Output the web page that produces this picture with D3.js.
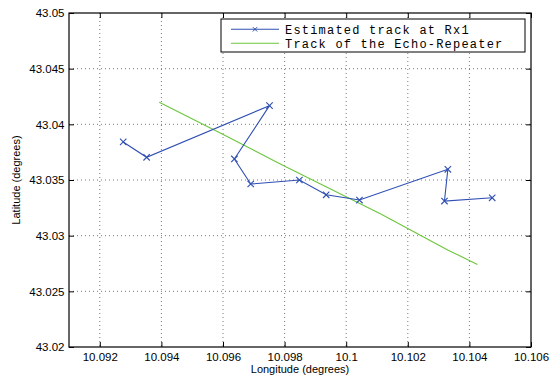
<!DOCTYPE html>
<html><head><meta charset="utf-8">
<script src="https://cdn.jsdelivr.net/npm/d3@7"></script>
<style>body{margin:0;background:#fff}svg{display:block}</style>
</head><body><svg id="c" width="552" height="379"></svg>
<script>
const estLon = [10.09276,10.09352,10.09751,10.09637,10.09690,10.09848,10.09935,10.10043,10.10330,10.10319,10.10474];
const estLat = [43.03842,43.03704,43.04168,43.03689,43.03464,43.03500,43.03367,43.03320,43.03596,43.03311,43.03340];
const repLon = [10.09393,10.09591,10.09786,10.10114,10.10331,10.10426];
const repLat = [43.04199,43.03923,43.03644,43.03193,43.02870,43.02742];
const xTicks = [10.092,10.094,10.096,10.098,10.1,10.102,10.104,10.106];
const yTicks = [43.02,43.025,43.03,43.035,43.04,43.045,43.05];
const legendLabels = ["Estimated track at Rx1","Track of the Echo-Repeater"];

const svg = d3.select("#c");
const L=69, R=531, T=13, B=347;
const x = d3.scaleLinear().domain([10.091,10.106]).range([L,R]);
const y = d3.scaleLinear().domain([43.02,43.05]).range([B,T]);
const blue="#2f4fb3", green="#6cc63c";
const sans="Liberation Sans, Arial, sans-serif";

// grid
const g = svg.append("g");
g.selectAll(".gx").data(xTicks.filter(d=>d<10.106)).enter().append("line")
 .attr("x1",d=>x(d)).attr("x2",d=>x(d)).attr("y1",T).attr("y2",B)
 .attr("stroke","#555").attr("stroke-width",0.8).attr("stroke-dasharray","1,3");
g.selectAll(".gy").data(yTicks.filter(d=>d>43.02&&d<43.05)).enter().append("line")
 .attr("y1",d=>y(d)).attr("y2",d=>y(d)).attr("x1",L).attr("x2",R)
 .attr("stroke","#555").attr("stroke-width",0.8).attr("stroke-dasharray","1,3");

// axes
const fmt = d=>String(+d.toFixed(3));
const ax = svg.append("g").attr("transform",`translate(0,${B})`)
 .call(d3.axisBottom(x).tickValues(xTicks).tickFormat(fmt).tickSizeInner(-5).tickSizeOuter(0).tickPadding(5.5));
const axT = svg.append("g").attr("transform",`translate(0,${T})`)
 .call(d3.axisTop(x).tickValues(xTicks).tickFormat("").tickSizeInner(-5).tickSizeOuter(0));
const ay = svg.append("g").attr("transform",`translate(${L},0)`)
 .call(d3.axisLeft(y).tickValues(yTicks).tickFormat(fmt).tickSizeInner(-5).tickSizeOuter(0).tickPadding(4.5));
const ayR = svg.append("g").attr("transform",`translate(${R},0)`)
 .call(d3.axisRight(y).tickValues(yTicks).tickFormat("").tickSizeInner(-5).tickSizeOuter(0));
[ax,axT,ay,ayR].forEach(a=>{
  a.select(".domain").remove();
  a.selectAll("line").attr("stroke","#000");
  a.selectAll("text").attr("font-family",sans).attr("font-size",11.5).attr("fill","#000");
});
svg.append("rect").attr("x",L).attr("y",T).attr("width",R-L).attr("height",B-T)
 .attr("fill","none").attr("stroke","#000").attr("stroke-width",1.2);

// data lines
const est = estLon.map((d,i)=>[d,estLat[i]]);
const rep = repLon.map((d,i)=>[d,repLat[i]]);
const line = d3.line().x(d=>x(d[0])).y(d=>y(d[1]));
svg.append("path").datum(rep).attr("d",line).attr("fill","none").attr("stroke",green).attr("stroke-width",1.1);
svg.append("path").datum(est).attr("d",line).attr("fill","none").attr("stroke",blue).attr("stroke-width",1.1);
const m=3.2;
const mk = svg.append("g").selectAll("g").data(est).enter().append("g")
 .attr("transform",d=>`translate(${x(d[0])},${y(d[1])})`);
mk.append("path").attr("d",`M${-m},${-m}L${m},${m}M${-m},${m}L${m},${-m}`).attr("stroke",blue).attr("stroke-width",1.1);

// axis labels
svg.append("text").attr("x",(L+R)/2).attr("y",373).attr("text-anchor","middle")
 .attr("font-family",sans).attr("font-size",11).text("Longitude (degrees)");
svg.append("text").attr("transform",`translate(20,${(T+B)/2}) rotate(-90)`).attr("text-anchor","middle")
 .attr("font-family",sans).attr("font-size",11).text("Latitude (degrees)");

// legend
const lg = svg.append("g");
lg.append("rect").attr("x",221).attr("y",19).attr("width",304).attr("height",33)
 .attr("fill","#fff").attr("stroke","#000").attr("stroke-width",1);
const cols=[blue,green];
legendLabels.forEach((t,i)=>{
  const yy = 29.3 + i*14;
  lg.append("line").attr("x1",231).attr("x2",279).attr("y1",yy).attr("y2",yy).attr("stroke",cols[i]).attr("stroke-width",1.1);
  if(i===0){
    const cx=255, mm=2.2;
    lg.append("path").attr("d",`M${cx-mm},${yy-mm}L${cx+mm},${yy+mm}M${cx-mm},${yy+mm}L${cx+mm},${yy-mm}`).attr("stroke",blue).attr("stroke-width",1);
  }
  lg.append("text").attr("x",285).attr("y",yy).attr("dy","0.35em")
   .attr("font-family","Liberation Mono, Courier New, monospace").attr("font-size",12)
   .attr("letter-spacing","1.2px").attr("fill","#000").text(t);
});
</script></body></html>
